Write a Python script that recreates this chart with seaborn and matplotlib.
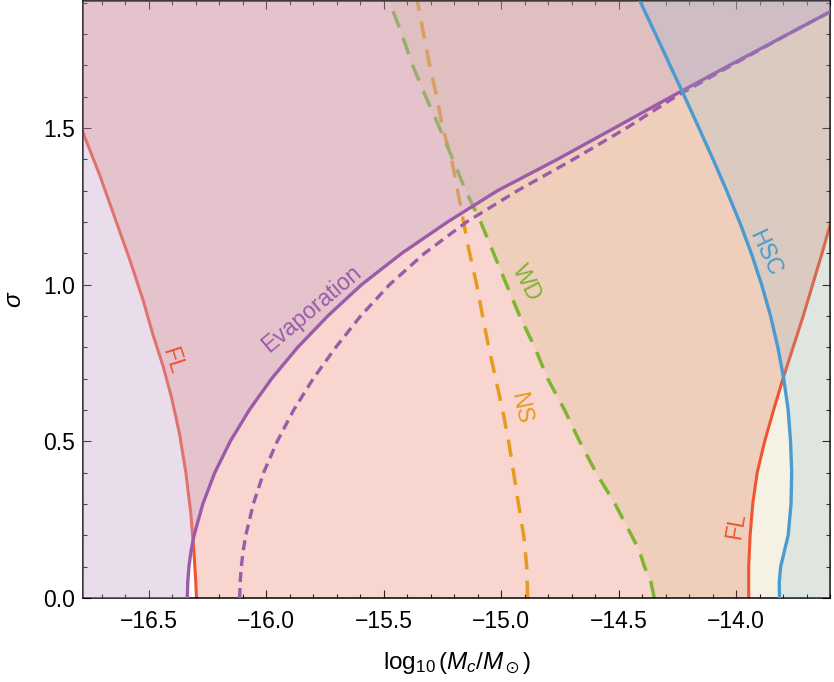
import numpy as np
import matplotlib.pyplot as plt
from matplotlib.ticker import MultipleLocator
import seaborn as sns

# curves: log10(Mc/Msun) at given sigma
evap_sigma = [0.0, 0.05, 0.1, 0.15, 0.2, 0.3, 0.4, 0.5, 0.6, 0.7, 0.8, 0.9,
              1.0, 1.1, 1.2, 1.3, 1.4, 1.5, 1.6, 1.7, 1.8, 1.9, 1.95]
evap_x = [-16.336, -16.334, -16.329, -16.320, -16.307, -16.270, -16.219,
          -16.153, -16.072, -15.977, -15.866, -15.738, -15.594, -15.423,
          -15.228, -15.015, -14.760, -14.517, -14.275, -14.028, -13.777,
          -13.526, -13.402]
evap_dash_x = [-16.113, -16.111, -16.106, -16.098, -16.087, -16.055, -16.011,
               -15.953, -15.883, -15.800, -15.704, -15.598, -15.475, -15.326,
               -15.147, -14.930, -14.692, -14.466, -14.257, -14.019, -13.777,
               -13.526, -13.402]

fl_left_sigma = [0.0, 0.055, 0.15, 0.27, 0.4, 0.52, 0.64, 0.74, 0.84, 0.95,
                 1.08, 1.2, 1.35, 1.47, 1.6, 1.75, 1.95]
fl_left_x = [-16.297, -16.300, -16.308, -16.321, -16.342, -16.368, -16.403,
             -16.439, -16.482, -16.524, -16.581, -16.638, -16.709, -16.772,
             -16.835, -16.907, -17.003]

fl_right_sigma = [0.0, 0.1, 0.2, 0.3, 0.4, 0.5, 0.6, 0.7, 0.8, 0.9, 1.0,
                  1.1, 1.2, 1.3, 1.95]
fl_right_x = [-13.946, -13.946, -13.940, -13.929, -13.910, -13.878, -13.840,
              -13.800, -13.757, -13.714, -13.674, -13.634, -13.596, -13.56,
              -13.33]

ns_sigma = [0.0, 0.1, 0.2, 0.3, 0.4, 0.5, 0.6, 0.7, 0.8, 0.9, 1.0,
            1.1, 1.2, 1.3, 1.4, 1.5, 1.6, 1.7, 1.8, 1.9, 1.95]
ns_x = [-14.887, -14.891, -14.904, -14.926, -14.947, -14.968, -14.994,
        -15.023, -15.053, -15.079, -15.104, -15.134, -15.160, -15.185,
        -15.211, -15.249, -15.274, -15.304, -15.330, -15.355, -15.368]

wd_sigma = [0.0, 0.05, 0.1, 0.15, 0.2, 0.3, 0.4, 0.5, 0.6, 0.7, 0.8, 0.9, 1.0,
            1.1, 1.2, 1.3, 1.4, 1.5, 1.6, 1.7, 1.8, 1.9, 1.95]
wd_x = [-14.348, -14.362, -14.390, -14.411, -14.445, -14.515, -14.596,
        -14.666, -14.730, -14.802, -14.857, -14.921, -14.977, -15.032,
        -15.087, -15.151, -15.206, -15.262, -15.321, -15.377, -15.423,
        -15.474, -15.500]

hsc_sigma = [0.0, 0.05, 0.1, 0.15, 0.2, 0.3, 0.4, 0.5, 0.6, 0.7, 0.8, 0.9,
             1.0, 1.1, 1.2, 1.3, 1.4, 1.5, 1.6, 1.7, 1.8, 1.9, 1.95]
hsc_x = [-13.815, -13.816, -13.810, -13.794, -13.778, -13.766, -13.763,
         -13.768, -13.778, -13.797, -13.822, -13.853, -13.891, -13.935,
         -13.985, -14.040, -14.098, -14.158, -14.219, -14.281, -14.343,
         -14.406, -14.438]

c_evap = "#9c5ba8"
c_fl = "#ee5533"
c_hsc = "#4a9bd0"
c_wd = "#80b433"
c_ns = "#e59a20"

sns.set_theme(style="ticks")
plt.rcParams["font.family"] = ["Liberation Sans", "DejaVu Sans"]
plt.rcParams["mathtext.fontset"] = "custom"
plt.rcParams["mathtext.rm"] = "Liberation Sans"
plt.rcParams["mathtext.it"] = "Liberation Sans:italic"
plt.rcParams["mathtext.fallback"] = "stixsans"
for k in ["text.color", "axes.labelcolor", "xtick.color", "ytick.color", "axes.edgecolor"]:
    plt.rcParams[k] = "black"

fig, ax = plt.subplots(figsize=(8.34, 6.82), dpi=100)
fig.subplots_adjust(left=0.0995, right=0.9952, bottom=0.1232, top=0.998)

# excluded regions, translucent and stacked
ax.fill(fl_left_x + fl_right_x[::-1], fl_left_sigma + fl_right_sigma[::-1],
        color="#e75f43", alpha=0.25, lw=0, zorder=1)
ax.fill(wd_x + [-10, -10], wd_sigma + [1.95, 0.0],
        color="#bca844", alpha=0.14, lw=0, zorder=1)

line_kw = dict(orient="y", estimator=None, legend=False, ax=ax)
sns.lineplot(x=fl_left_x, y=fl_left_sigma, color=c_fl, lw=2.2, zorder=2, **line_kw)
sns.lineplot(x=fl_right_x, y=fl_right_sigma, color=c_fl, lw=2.2, zorder=2, **line_kw)
sns.lineplot(x=ns_x, y=ns_sigma, color=c_ns, lw=2.5, ls=(0, (5, 3.2)), zorder=2, **line_kw)
sns.lineplot(x=wd_x, y=wd_sigma, color=c_wd, lw=2.5, ls=(0, (5, 3.2)), zorder=2, **line_kw)

ax.fill(evap_x + [-20, -20], evap_sigma + [1.95, 0.0],
        color="#c8a6cc", alpha=0.38, lw=0, zorder=3)
sns.lineplot(x=evap_x, y=evap_sigma, color=c_evap, lw=2.4, zorder=4, **line_kw)
sns.lineplot(x=evap_dash_x, y=evap_sigma, color=c_evap, lw=2.4, ls=(0, (3, 1.8)), zorder=4, **line_kw)

ax.fill(hsc_x + [-10, -10], hsc_sigma + [1.95, 0.0],
        color="#87b6d4", alpha=0.2, lw=0, zorder=5)
sns.lineplot(x=hsc_x, y=hsc_sigma, color=c_hsc, lw=2.4, zorder=6, **line_kw)

# curve labels
lab = dict(fontsize=16.5, ha="center", va="center", rotation_mode="anchor", zorder=7)
ax.text(-15.806, 0.924, "Evaporation", color=c_evap, rotation=40, **lab)
ax.text(-16.398, 0.758, "FL", color=c_fl, rotation=-72, **lab)
ax.text(-13.998, 0.232, "FL", color=c_fl, rotation=80, **lab)
ax.text(-14.891, 1.006, "WD", color=c_wd, rotation=-62, **lab)
ax.text(-14.917, 0.605, "NS", color=c_ns, rotation=-78, **lab)
ax.text(-13.874, 1.102, "HSC", color=c_hsc, rotation=-65, **lab)

ax.set_xlim(-16.78, -13.6)
ax.set_ylim(0, 1.904)
ax.xaxis.set_major_locator(MultipleLocator(0.5))
ax.xaxis.set_minor_locator(MultipleLocator(0.1))
ax.yaxis.set_major_locator(MultipleLocator(0.5))
ax.yaxis.set_minor_locator(MultipleLocator(0.1))
ax.tick_params(which="both", direction="in", top=True, right=True, width=0.8)
ax.tick_params(which="major", length=6, labelsize=16.5)
ax.tick_params(which="minor", length=3.2)
ax.tick_params(axis="x", pad=9)
ax.tick_params(axis="y", pad=6)
for s in ax.spines.values():
    s.set_linewidth(1.1)

ax.set_xlabel(r"$\log_{10}(M_c/M_\odot)$", fontsize=17.5, labelpad=12)
ax.set_ylabel(r"$\sigma$", fontsize=17.5, labelpad=12)

fig.savefig("out.png", dpi=100)
